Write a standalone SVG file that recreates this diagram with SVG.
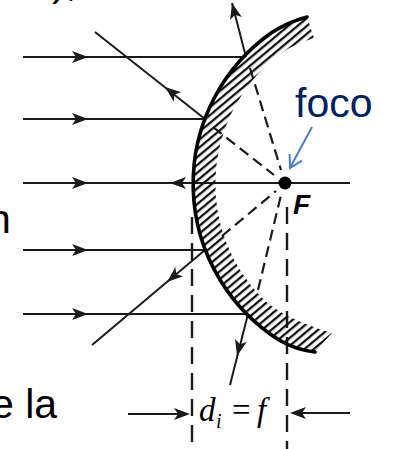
<svg xmlns="http://www.w3.org/2000/svg" width="394" height="449" viewBox="0 0 394 449">
  <style>
    .ray { stroke: #1a1a1a; stroke-width: 2; fill: none; }
    .dash { stroke: #1a1a1a; stroke-width: 2.2; fill: none; stroke-dasharray: 11 6; }
    .vdash { stroke: #1a1a1a; stroke-width: 2.4; fill: none; stroke-dasharray: 17 9; }
    .head { fill: #1a1a1a; }
    .slide { font-family: "Liberation Sans", Arial, sans-serif; font-size: 41px; fill: #000; }
    .math { font-family: "Liberation Serif", "Times New Roman", serif; fill: #000; }
  </style>
  <defs>
    <path id="ah" d="M0,0 L-16,-6 L-12,0 L-16,6 Z"/>
    <pattern id="hatch" patternUnits="userSpaceOnUse" width="10" height="6" patternTransform="rotate(-40)">
      <rect x="0" y="0" width="10" height="2.3" fill="#111"/>
    </pattern>
  </defs>

  <!-- cropped slide text at the edges -->
  <g id="slide-text">
    <text class="slide" x="52" y="-4">),</text>
    <text class="slide" x="-12" y="233">n</text>
    <text class="slide" x="-9" y="418">e la</text>
    <text class="slide" x="-3" y="454">.</text>
  </g>

  <!-- incident rays, reflected rays and their dashed extensions -->
  <g id="connectors">
    <line class="ray" x1="23" y1="57" x2="244" y2="57"/>
    <line class="ray" x1="23" y1="119" x2="205" y2="119"/>
    <line class="ray" x1="23" y1="183" x2="350" y2="183"/>
    <line class="ray" x1="23" y1="250" x2="205" y2="250"/>
    <line class="ray" x1="23" y1="314" x2="247" y2="314"/>

    <line class="ray" x1="246" y1="57" x2="232" y2="3"/>
    <line class="ray" x1="205" y1="119" x2="95" y2="32"/>
    <line class="ray" x1="205" y1="250" x2="92" y2="345"/>
    <line class="ray" x1="248" y1="314" x2="230" y2="385"/>

    <line class="dash" x1="250" y1="68" x2="281" y2="170"/>
    <line class="dash" x1="213" y1="127" x2="274" y2="175"/>
    <line class="dash" x1="222" y1="236" x2="276" y2="191"/>
    <line class="dash" x1="258" y1="290" x2="281" y2="195"/>

    <line class="vdash" x1="192" y1="217" x2="192" y2="449"/>
    <line class="vdash" x1="287" y1="207" x2="287" y2="449"/>

    <line class="ray" x1="128" y1="414" x2="185" y2="414"/>
    <line class="ray" x1="350" y1="413" x2="295" y2="413"/>

    <use href="#ah" class="head" transform="translate(88,57)"/>
    <use href="#ah" class="head" transform="translate(88,119)"/>
    <use href="#ah" class="head" transform="translate(88,183)"/>
    <use href="#ah" class="head" transform="translate(170,183) rotate(180)"/>
    <use href="#ah" class="head" transform="translate(88,250)"/>
    <use href="#ah" class="head" transform="translate(88,314)"/>
    <use href="#ah" class="head" transform="translate(232,3) rotate(-104.3)"/>
    <use href="#ah" class="head" transform="translate(165,87) rotate(-141.3)"/>
    <use href="#ah" class="head" transform="translate(167,282) rotate(140)"/>
    <use href="#ah" class="head" transform="translate(237,356) rotate(104.2)"/>
    <use href="#ah" class="head" transform="translate(190,414)"/>
    <use href="#ah" class="head" transform="translate(290,413) rotate(180)"/>
  </g>

  <!-- concave mirror: hatched back and thick reflecting face -->
  <g id="mirror">
    <path d="M307,17 Q288,22 271,33 A185,185 0 0,0 279,340 Q296,350 315,352 L332,333 Q282,318 262,298 A163,163 0 0,1 270,62 Q289,45 314,38 Z" fill="url(#hatch)"/>
    <path d="M307,17 Q288,22 271,33 A185,185 0 0,0 279,340 Q296,350 315,352" fill="none" stroke="#000" stroke-width="3.6" stroke-linecap="round"/>
  </g>

  <!-- focal point -->
  <g id="focus">
    <circle cx="285" cy="183" r="6.5" fill="#000"/>
    <text x="293" y="214" font-family="Liberation Sans, Arial, sans-serif" font-size="28" font-weight="bold" font-style="italic" fill="#000">F</text>
  </g>

  <!-- callout label -->
  <g id="foco-label">
    <text x="295" y="117" font-family="Liberation Sans, Arial, sans-serif" font-size="41" fill="#002060">foco</text>
    <line x1="312" y1="127" x2="291" y2="166" stroke="#4A7EC4" stroke-width="2"/>
    <polyline points="302,160.6 290,168 289.6,154" fill="none" stroke="#4A7EC4" stroke-width="2"/>
  </g>

  <!-- focal distance label -->
  <g id="distance-label">
    <text class="math" x="199" y="421" font-size="33" font-style="italic">d</text>
    <text class="math" x="216" y="428" font-size="20" font-style="italic">i</text>
    <text class="math" x="232" y="421" font-size="33">=</text>
    <text class="math" x="257" y="421" font-size="33" font-style="italic">f</text>
  </g>
</svg>
